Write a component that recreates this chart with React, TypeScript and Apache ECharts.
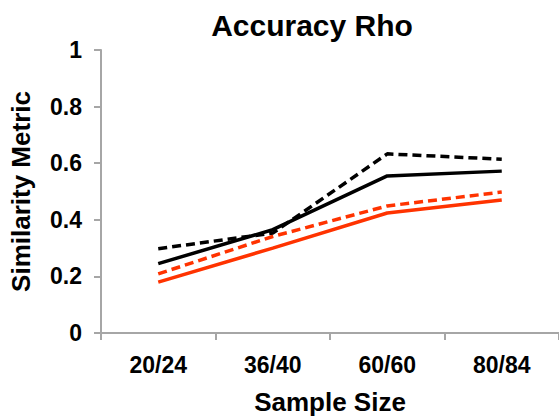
import React, { useEffect, useRef } from "react";
import * as echarts from "echarts";

const categories = ["20/24", "36/40", "60/60", "80/84"];
const yTicks = [0, 0.2, 0.4, 0.6, 0.8, 1];
const blackDashed = [0.298, 0.353, 0.633, 0.614];
const blackSolid = [0.245, 0.365, 0.555, 0.572];
const redDashed = [0.209, 0.341, 0.449, 0.498];
const redSolid = [0.18, 0.3, 0.424, 0.47];

const FONT = "'Liberation Sans', Arial, sans-serif";

export default function App() {
  const ref = useRef<HTMLDivElement>(null);
  useEffect(() => {
    const chart = echarts.init(ref.current!, null, { renderer: "svg" });
    const axisColor = "#a6a6a6";
    const mk = (name: string, data: number[], color: string, dashed: boolean) => ({
      name,
      type: "line",
      data,
      symbol: "none",
      lineStyle: { color, width: 3.5, type: dashed ? [9, 5] : "solid" },
      z: dashed ? 3 : 2,
    });
    chart.setOption({
      animation: false,
      backgroundColor: "#fff",
      title: {
        text: "Accuracy Rho",
        left: 307,
        textAlign: "center",
        top: 5,
        textStyle: { fontFamily: FONT, fontWeight: "bold", fontSize: 30, color: "#000" },
      },
      grid: { left: 99, top: 50, width: 463, height: 283.3, containLabel: false },
      xAxis: {
        type: "category",
        data: categories,
        boundaryGap: true,
        name: "Sample Size",
        nameLocation: "middle",
        nameGap: 56,
        nameTextStyle: { fontFamily: FONT, fontWeight: "bold", fontSize: 26, color: "#000" },
        axisLine: { lineStyle: { color: axisColor, width: 2 } },
        axisTick: { show: true, length: 7, lineStyle: { color: axisColor, width: 2 } },
        axisLabel: { margin: 20, fontFamily: FONT, fontWeight: "bold", fontSize: 23, color: "#000" },
        splitLine: { show: false },
      },
      yAxis: {
        type: "value",
        min: yTicks[0],
        max: yTicks[yTicks.length - 1],
        interval: 0.2,
        name: "Similarity Metric",
        nameLocation: "middle",
        nameGap: 67,
        nameRotate: 90,
        nameTextStyle: { fontFamily: FONT, fontWeight: "bold", fontSize: 26, color: "#000" },
        axisLine: { show: true, lineStyle: { color: axisColor, width: 2 } },
        axisTick: { show: true, length: 7, lineStyle: { color: axisColor, width: 2 } },
        axisLabel: {
          margin: 19,
          fontFamily: FONT,
          fontWeight: "bold",
          fontSize: 23,
          color: "#000",
          formatter: (v: number) => String(Math.round(v * 10) / 10),
        },
        splitLine: { show: false },
      },
      series: [
        mk("Red Solid", redSolid, "#ff3300", false),
        mk("Red Dashed", redDashed, "#ff3300", true),
        mk("Black Solid", blackSolid, "#000000", false),
        mk("Black Dashed", blackDashed, "#000000", true),
      ],
    });
    return () => chart.dispose();
  }, []);
  return <div ref={ref} style={{ width: 559, height: 420, position: "absolute", left: 0, top: 0 }} />;
}
